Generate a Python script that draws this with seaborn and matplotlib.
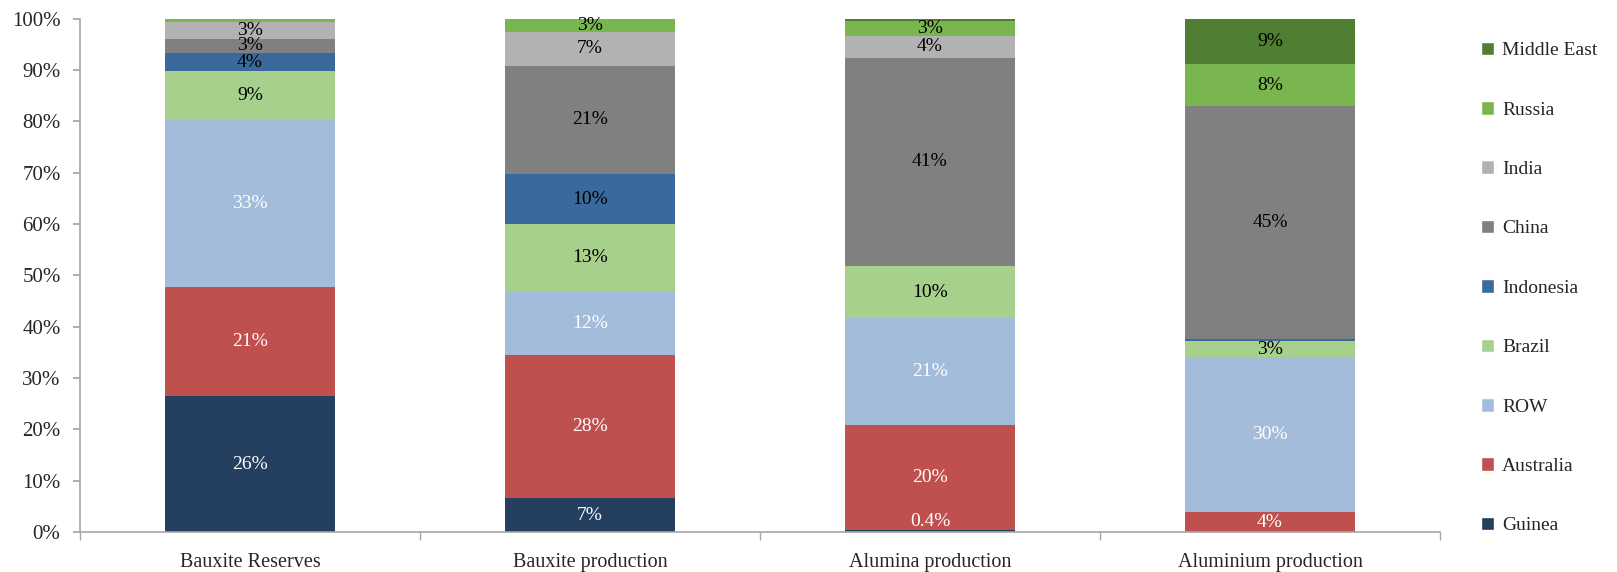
import numpy as np
import pandas as pd
import seaborn as sns
import matplotlib.pyplot as plt
from matplotlib.patches import Patch

categories = ['Bauxite Reserves', 'Bauxite production', 'Alumina production', 'Aluminium production']

# series from bottom to top, values in % of each bar
series = ['Guinea', 'Australia', 'ROW', 'Brazil', 'Indonesia', 'China', 'India', 'Russia', 'Middle East']
guinea = [26.4, 6.6, 0.4, 0.0]
australia = [21.3, 27.9, 20.5, 3.8]
row = [32.6, 12.4, 20.7, 30.3]
brazil = [9.4, 13.0, 10.2, 3.0]
indonesia = [3.6, 9.9, 0.0, 0.4]
china = [2.8, 21.0, 40.6, 45.4]
india = [3.2, 6.6, 4.2, 0.0]
russia = [0.7, 2.6, 3.0, 8.3]
middle_east = [0.0, 0.0, 0.4, 8.8]

colors = ['#243F60', '#C0504D', '#A3BCDA', '#A8D08D', '#3A6A9C',
          '#808080', '#B2B2B2', '#79B650', '#507E32']
text_colors = ['white', 'white', 'white', 'black', 'black',
               'black', 'black', 'black', 'black']

vals = np.array([guinea, australia, row, brazil, indonesia, china, india, russia, middle_east])
cum = vals.cumsum(axis=0)

sns.set_theme(style='white')
plt.rcParams['font.family'] = ['Liberation Serif', 'DejaVu Serif']
fs = 14

fig = plt.figure(figsize=(16.17, 5.72), dpi=100)
ax = fig.add_axes([0.0495, 0.07, 0.841, 0.8975])

# stacked bars: draw cumulative totals top-down so lower series cover upper ones
for i in range(len(series) - 1, -1, -1):
    df = pd.DataFrame({'cat': categories, 'val': cum[i]})
    sns.barplot(data=df, x='cat', y='val', color=colors[i], width=0.5,
                saturation=1, ax=ax, linewidth=0)

# value labels
for i in range(len(series)):
    for j in range(len(categories)):
        v = vals[i, j]
        if v <= 0:
            continue
        if v >= 2:
            txt = '%d%%' % round(v)
            ax.text(j, cum[i, j] - v / 2, txt, ha='center', va='center',
                    fontsize=fs, color=text_colors[i])
        elif series[i] == 'Guinea':
            ax.text(j, cum[i, j] - 0.1, '%.1f%%' % v, ha='center', va='bottom',
                    fontsize=fs, color=text_colors[i])

ax.set_xlim(-0.5, 3.5)
ax.set_ylim(0, 100)
ax.set_yticks(np.arange(0, 101, 10))
ax.set_yticklabels(['%d%%' % t for t in range(0, 101, 10)], fontsize=fs + 1)
ax.set_xticks(range(4))
ax.set_xticklabels(categories, fontsize=fs + 0.5)
ax.set_xticks(np.arange(-0.5, 4, 1), minor=True)
ax.tick_params(axis='x', which='major', length=0, pad=15)
ax.tick_params(axis='x', which='minor', length=6, color='#A6A6A6', direction='out', bottom=True)
ax.tick_params(axis='y', length=5, color='#A6A6A6', direction='out', left=True, pad=9)
ax.set_xlabel('')
ax.set_ylabel('')
for s in ['top', 'right']:
    ax.spines[s].set_visible(False)
for s in ['left', 'bottom']:
    ax.spines[s].set_color('#A6A6A6')
    ax.spines[s].set_linewidth(1.2)

handles = [Patch(facecolor=colors[i], label=series[i]) for i in range(len(series) - 1, -1, -1)]
fig.legend(handles=handles, loc='upper left', bbox_to_anchor=(0.911, 0.941),
           frameon=False, fontsize=fs, handlelength=0.7, handleheight=0.7,
           handletextpad=0.4, labelspacing=2.15, borderaxespad=0)

fig.savefig('out.png', dpi=100)
